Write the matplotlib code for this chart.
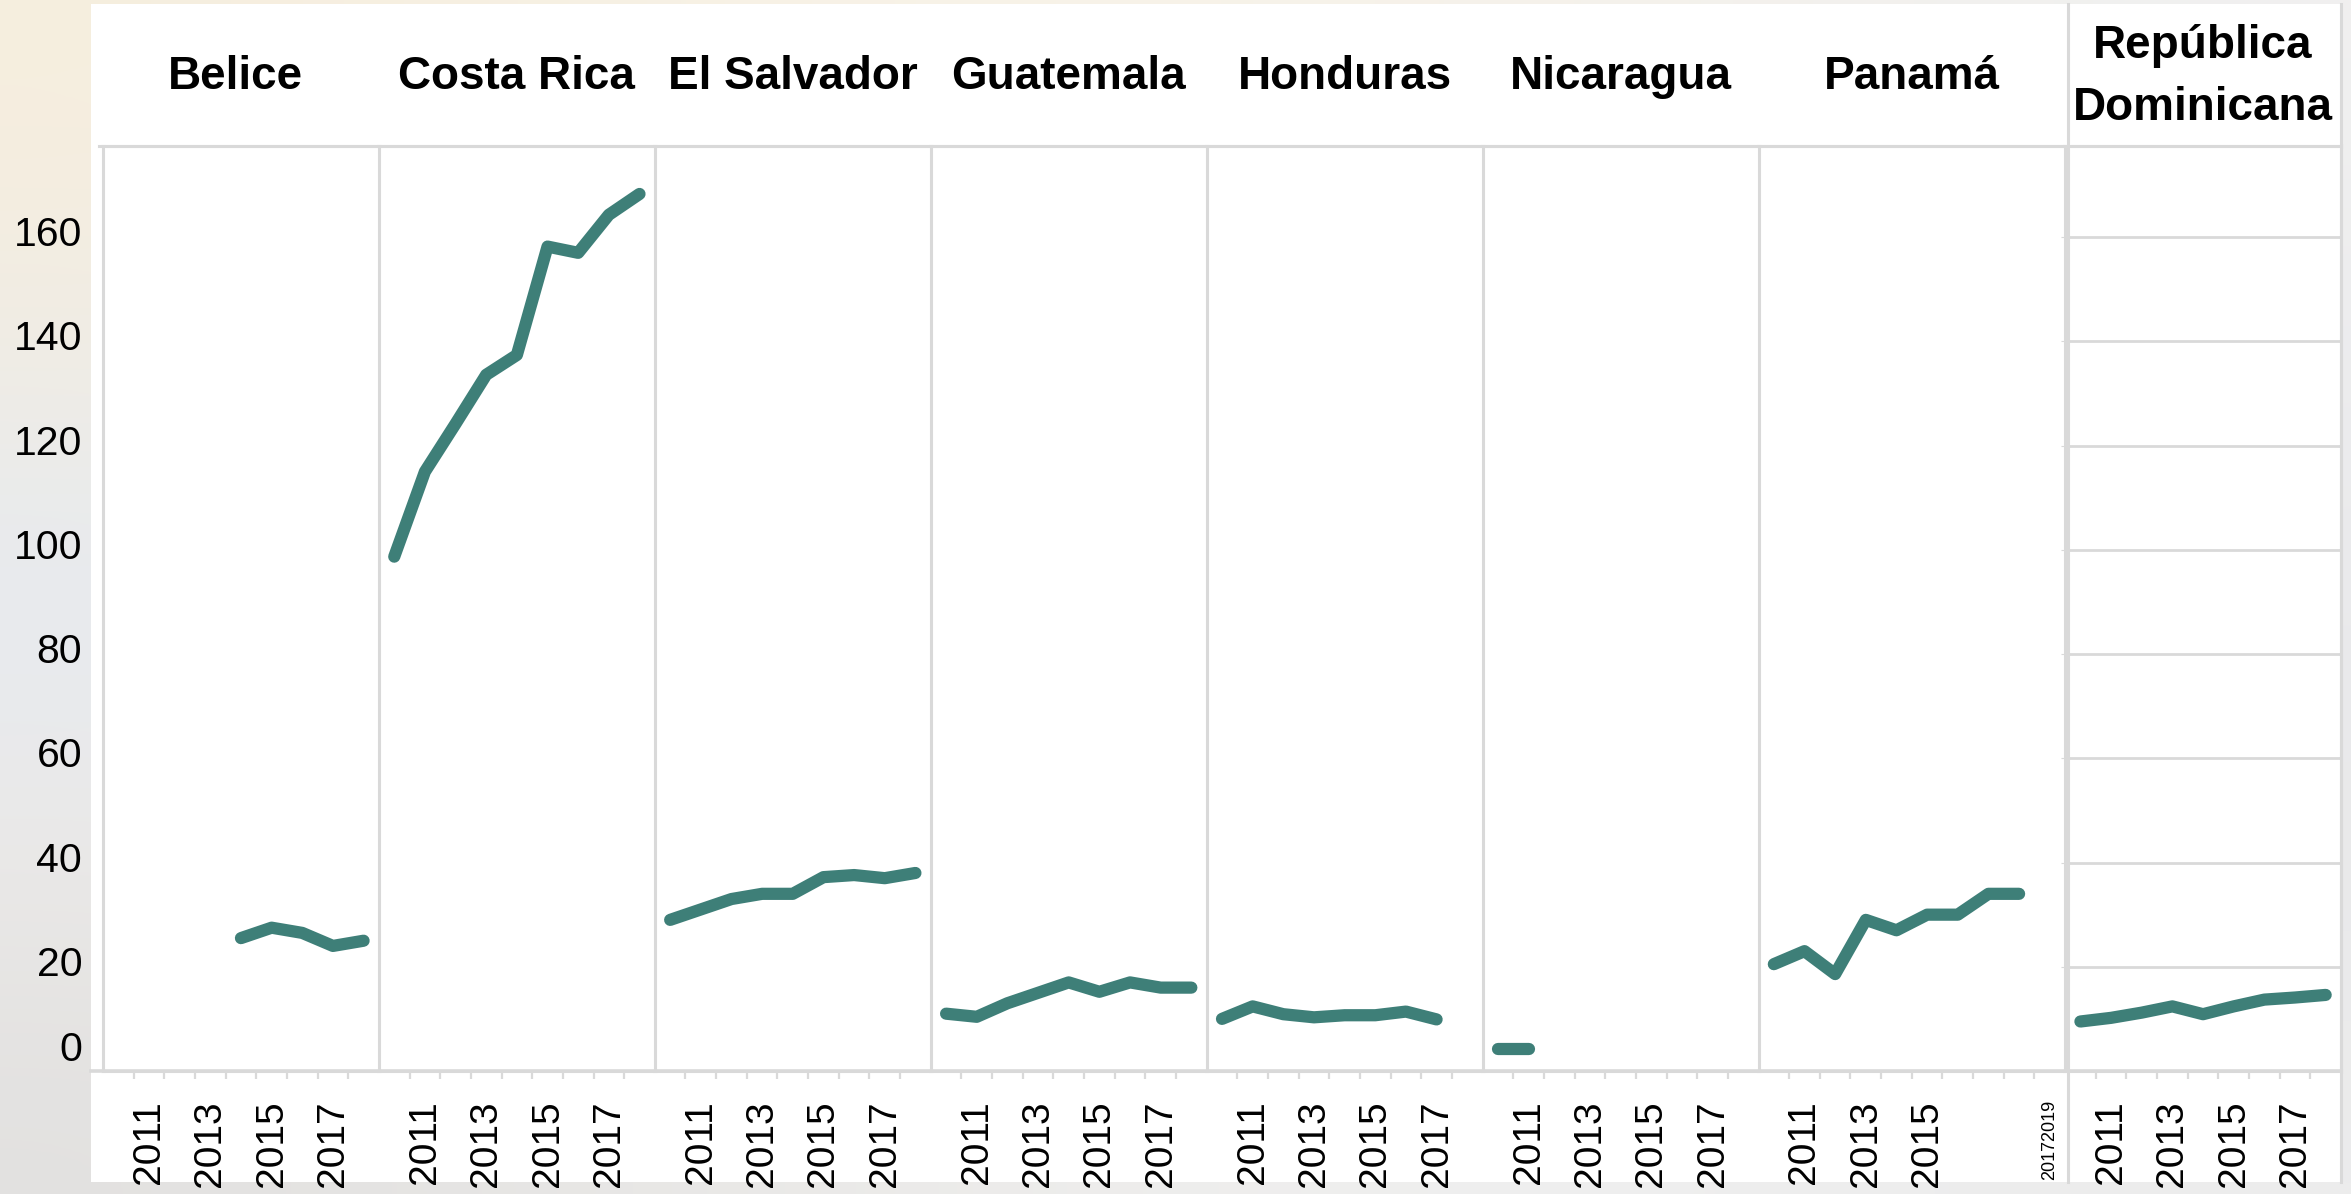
import numpy as np
import matplotlib
matplotlib.use("Agg")
import matplotlib.pyplot as plt
from matplotlib.patches import Rectangle
from matplotlib.lines import Line2D
from matplotlib.transforms import ScaledTranslation

# ---- data -------------------------------------------------------------
countries = ["Belice", "Costa Rica", "El Salvador", "Guatemala", "Honduras",
             "Nicaragua", "Panamá", "República\nDominicana"]
# first and last year of the category axis for each country panel
panel_first_year = [2010, 2010, 2010, 2010, 2010, 2010, 2010, 2010]
panel_last_year = [2018, 2018, 2018, 2018, 2018, 2018, 2019, 2018]

belice_years = [2014, 2015, 2016, 2017, 2018]
belice = [25.5, 27.5, 26.5, 24.0, 25.0]
costa_rica_years = [2010, 2011, 2012, 2013, 2014, 2015, 2016, 2017, 2018]
costa_rica = [98.7, 115.0, 124.2, 133.6, 137.4, 158.2, 157.0, 164.3, 168.3]
el_salvador_years = [2010, 2011, 2012, 2013, 2014, 2015, 2016, 2017, 2018]
el_salvador = [29.0, 31.0, 33.0, 34.0, 34.0, 37.2, 37.6, 37.0, 38.0]
guatemala_years = [2010, 2011, 2012, 2013, 2014, 2015, 2016, 2017, 2018]
guatemala = [11.0, 10.4, 13.0, 15.0, 17.0, 15.2, 17.0, 16.0, 16.0]
honduras_years = [2010, 2011, 2012, 2013, 2014, 2015, 2016, 2017]
honduras = [10.0, 12.4, 10.9, 10.3, 10.7, 10.7, 11.4, 9.9]
nicaragua_years = [2010, 2011]
nicaragua = [4.2, 4.2]
panama_years = [2010, 2011, 2012, 2013, 2014, 2015, 2016, 2017, 2018]
panama = [20.5, 23.0, 18.6, 29.0, 27.0, 30.0, 30.0, 34.0, 34.0]
rep_dom_years = [2010, 2011, 2012, 2013, 2014, 2015, 2016, 2017, 2018]
rep_dom = [9.5, 10.2, 11.2, 12.4, 10.9, 12.4, 13.7, 14.1, 14.6]

series_years = [belice_years, costa_rica_years, el_salvador_years, guatemala_years,
                honduras_years, nicaragua_years, panama_years, rep_dom_years]
series_values = [belice, costa_rica, el_salvador, guatemala,
                 honduras, nicaragua, panama, rep_dom]

# year labels printed under each panel
year_labels = [["2011", "2013", "2015", "2017"]] * 6 + \
              [["2011", "2013", "2015", "20172019"]] + [["2011", "2013", "2015", "2017"]]
year_label_years = [[2011, 2013, 2015, 2017]] * 6 + \
                   [[2011, 2013, 2015, 2019]] + [[2011, 2013, 2015, 2017]]

y_ticks = [0, 20, 40, 60, 80, 100, 120, 140, 160]

# ---- style ------------------------------------------------------------
LINE = "#3e7f78"
GRID = "#d9d9d9"
FONT = ["Liberation Sans", "DejaVu Sans"]
plt.rcParams["font.family"] = FONT

W, H = 2351, 1194
fig = plt.figure(figsize=(W / 100, H / 100), dpi=100)


def fx(px):
    return px / W


def fy(py):  # py measured from top
    return 1 - py / H


# soft photographic backdrop behind the chart
bg = fig.add_axes([0, 0, 1, 1], zorder=-10)
bg_colors = np.array([
    [[246, 238, 222], [248, 243, 232], [247, 242, 233], [240, 240, 240]],
    [[240, 236, 228], [244, 242, 236], [242, 241, 238], [236, 236, 238]],
    [[229, 234, 241], [238, 239, 240], [240, 240, 240], [234, 234, 236]],
    [[236, 234, 232], [240, 238, 236], [238, 238, 238], [232, 232, 234]],
    [[226, 225, 224], [236, 235, 233], [240, 240, 240], [236, 236, 236]],
]) / 255.0
bg.imshow(bg_colors, aspect="auto", interpolation="bicubic", extent=[0, 1, 0, 1])
bg.set_axis_off()

# white chart area
fig.patches.append(Rectangle((fx(91), fy(1182)), fx(2341 - 91), (1182 - 4) / H,
                             transform=fig.transFigure, facecolor="white",
                             edgecolor="none", zorder=-5))

# panel geometry
plot_left, plot_right = 103, 2341
plot_top, plot_bottom = 146, 1071
ncat = [l - f + 1 for f, l in zip(panel_first_year, panel_last_year)]
cat_w = (plot_right - plot_left) / sum(ncat)
YMAX = 177.5

x0 = plot_left
axes = []
for i, n in enumerate(ncat):
    w = n * cat_w
    ax = fig.add_axes([fx(x0), fy(plot_bottom), fx(w), (plot_bottom - plot_top) / H])
    ax.set_facecolor("none")
    ax.set_xlim(-0.5, n - 0.5)
    ax.set_ylim(0, YMAX)
    for s in ax.spines.values():
        s.set_color(GRID)
        s.set_linewidth(2.2)
    ax.spines["right"].set_visible(i == len(ncat) - 1)

    yrs = np.array(series_years[i]) - panel_first_year[i]
    ax.plot(yrs, series_values[i], color=LINE, lw=8.8,
            solid_capstyle="round", solid_joinstyle="round", zorder=3)

    # year labels at category centres, small ticks at category boundaries
    ax.set_xticks([y - panel_first_year[i] for y in year_label_years[i]])
    ax.set_xticklabels(year_labels[i], rotation=90, fontsize=28)
    ax.tick_params(axis="x", which="major", length=0, pad=21)
    ax.set_xticks(np.arange(n - 1) + 0.5, minor=True)
    ax.tick_params(axis="x", which="minor", length=6, width=1.6, color=GRID)
    if i == 6:
        ax.get_xticklabels()[-1].set_fontsize(13)
    ax.set_yticks([])

    # country header, the first one centred over the whole left header cell
    left_edge = 91 if i == 0 else x0
    cx = (left_edge + x0 + w) / 2
    fig.text(fx(cx), fy(77), countries[i], ha="center", va="center",
             fontsize=33, fontweight="bold", linespacing=1.5)

    if i == len(ncat) - 1:
        ax.set_yticks(y_ticks[1:])
        ax.yaxis.grid(True, color=GRID, lw=2.0)
        ax.tick_params(axis="y", length=3, color=GRID, labelleft=False)
        ax.set_axisbelow(True)
    axes.append(ax)
    x0 += w

# value labels for the vertical scale, set slightly above their levels
lab = fig.add_axes([fx(plot_left), fy(plot_bottom), fx(10), (plot_bottom - plot_top) / H])
lab.set_ylim(0, YMAX)
lab.set_yticks(y_ticks)
lab.set_yticklabels([str(v) for v in y_ticks], fontsize=29.5)
lab.tick_params(axis="y", length=0, pad=15)
lab.set_xticks([])
for s in lab.spines.values():
    s.set_visible(False)
lab.patch.set_visible(False)
lift = ScaledTranslation(0, 6 / 100, fig.dpi_scale_trans)
for k, t in enumerate(lab.get_yticklabels()):
    extra = 19 / 100 if y_ticks[k] == 0 else 0
    t.set_transform(t.get_transform() + lift + ScaledTranslation(0, extra, fig.dpi_scale_trans))

# full-height frame around the last panel and the rules across the chart
for px in (2068, plot_right):
    fig.add_artist(Line2D([fx(px), fx(px)], [fy(1182), fy(4)], color=GRID, lw=2.2,
                          transform=fig.transFigure))
fig.add_artist(Line2D([fx(99), fx(plot_right)], [fy(plot_top), fy(plot_top)],
                      color=GRID, lw=2.2, transform=fig.transFigure))
fig.add_artist(Line2D([fx(91), fx(plot_right)], [fy(plot_bottom), fy(plot_bottom)],
                      color=GRID, lw=2.6, transform=fig.transFigure))

fig.savefig("out.png", dpi=100)
